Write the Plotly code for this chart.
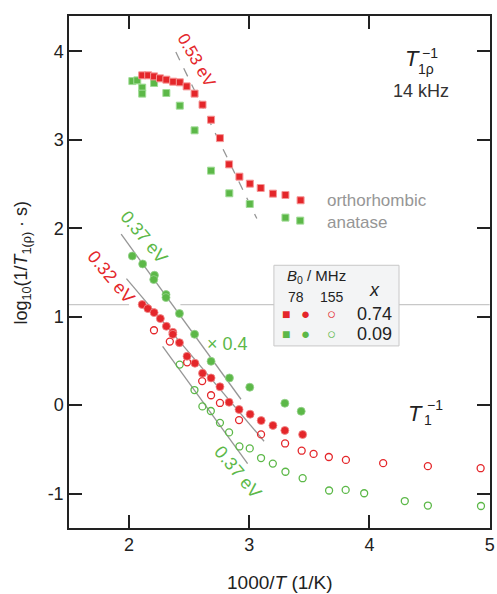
import plotly.graph_objects as go

# T1rho^-1 (14 kHz), squares
ortho_sq_x = [2.109, 2.159, 2.208, 2.257, 2.310, 2.367, 2.422, 2.479, 2.545, 2.611,
              2.682, 2.756, 2.832, 2.918, 3.005, 3.095, 3.197, 3.301, 3.427]
ortho_sq_y = [3.729, 3.729, 3.717, 3.695, 3.680, 3.657, 3.650, 3.604, 3.522, 3.397,
              3.227, 3.019, 2.722, 2.583, 2.504, 2.455, 2.391, 2.376, 2.316]
anat_sq_x = [2.027, 2.068, 2.109, 2.109, 2.208, 2.310, 2.422, 2.545, 2.682, 2.834,
             3.004, 3.301, 3.424]
anat_sq_y = [3.664, 3.672, 3.590, 3.522, 3.642, 3.529, 3.386, 3.107, 2.651, 2.395,
             2.274, 2.120, 2.086]

# T1^-1, 78 MHz (filled) and 155 MHz (open)
ortho_78_x = [2.109, 2.156, 2.208, 2.260, 2.310, 2.364, 2.364, 2.419, 2.482, 2.548,
              2.611, 2.682, 2.756, 2.832, 2.915, 3.007, 3.099, 3.197, 3.296, 3.444]
ortho_78_y = [1.137, 1.091, 1.046, 0.978, 0.891, 0.823, 0.800, 0.706, 0.552, 0.473,
              0.360, 0.307, 0.207, 0.032, -0.050, -0.103, -0.175, -0.230, -0.287, -0.333]
anat_78_x = [2.027, 2.113, 2.211, 2.205, 2.307, 2.307, 2.419, 2.545, 2.682, 2.835,
             3.004, 3.296, 3.432]
anat_78_y = [1.686, 1.596, 1.468, 1.419, 1.250, 1.216, 1.035, 0.801, 0.495, 0.307,
             0.202, 0.021, -0.070]
ortho_155_x = [2.207, 2.339, 2.483, 2.608, 2.682, 2.756, 2.915, 3.098, 3.298, 3.436,
               3.535, 3.662, 3.804, 4.114, 4.486, 4.925]
ortho_155_y = [0.846, 0.718, 0.484, 0.271, 0.111, 0.024, -0.170, -0.332, -0.434, -0.516,
               -0.552, -0.587, -0.620, -0.657, -0.691, -0.714]
anat_155_x = [2.421, 2.544, 2.610, 2.680, 2.756, 2.832, 2.918, 3.004, 3.098, 3.196,
              3.301, 3.444, 3.664, 3.802, 3.956, 4.294, 4.486, 4.928]
anat_155_y = [0.458, 0.170, -0.015, -0.067, -0.201, -0.309, -0.468, -0.490, -0.599, -0.662,
              -0.754, -0.827, -0.966, -0.959, -0.997, -1.085, -1.136, -1.141]

# Arrhenius fit lines (end points)
fit_053_x, fit_053_y = [2.389, 3.063], [3.992, 2.109]
fit_037a_x, fit_037a_y = [1.934, 2.931], [1.932, 0.066]
fit_032_x, fit_032_y = [1.978, 3.123], [1.430, -0.409]
fit_037b_x, fit_037b_y = [2.279, 2.986], [0.665, -0.661]

divider_y = 1.137

RED = "rgb(228,38,42)"
GREEN = "rgb(92,184,72)"
GRAY = "rgb(150,150,150)"
FONT = "Arial, Liberation Sans, sans-serif"

fig = go.Figure()

for fx, fy, dash in [(fit_053_x, fit_053_y, "dash"), (fit_037a_x, fit_037a_y, "solid"),
                     (fit_032_x, fit_032_y, "solid"), (fit_037b_x, fit_037b_y, "solid")]:
    fig.add_trace(go.Scatter(x=fx, y=fy, mode="lines",
                             line=dict(color=GRAY, width=1.3, dash=dash)))

fig.add_trace(go.Scatter(x=anat_sq_x, y=anat_sq_y, mode="markers",
                         marker=dict(symbol="square", size=7, color=GREEN,
                                     line=dict(color="rgb(160,220,150)", width=1))))
fig.add_trace(go.Scatter(x=ortho_sq_x, y=ortho_sq_y, mode="markers",
                         marker=dict(symbol="square", size=7, color=RED,
                                     line=dict(color="rgb(245,150,150)", width=1))))
fig.add_trace(go.Scatter(x=anat_155_x, y=anat_155_y, mode="markers",
                         marker=dict(symbol="circle-open", size=7, color=GREEN,
                                     line=dict(width=1.3))))
fig.add_trace(go.Scatter(x=ortho_155_x, y=ortho_155_y, mode="markers",
                         marker=dict(symbol="circle-open", size=7, color=RED,
                                     line=dict(width=1.3))))
fig.add_trace(go.Scatter(x=anat_78_x, y=anat_78_y, mode="markers",
                         marker=dict(symbol="circle", size=8, color=GREEN,
                                     line=dict(color="rgb(150,210,140)", width=0.8))))
fig.add_trace(go.Scatter(x=ortho_78_x, y=ortho_78_y, mode="markers",
                         marker=dict(symbol="circle", size=8, color=RED,
                                     line=dict(color="rgb(240,140,140)", width=0.8))))

# divider line and legend box
fig.add_shape(type="line", x0=1.5, x1=2.0, y0=divider_y, y1=divider_y, layer="below",
              line=dict(color="rgb(200,200,200)", width=1.3))
fig.add_shape(type="line", x0=2.427, x1=5.0, y0=divider_y, y1=divider_y, layer="below",
              line=dict(color="rgb(200,200,200)", width=1.3))
fig.add_shape(type="rect", x0=3.205, x1=4.246, y0=0.669, y1=1.581, layer="below",
              fillcolor="rgb(243,244,245)", line=dict(color="rgb(200,200,200)", width=1))


def note(x, y, text, color="#222", size=17, angle=0, xanchor="center", ref=None):
    fig.add_annotation(x=x, y=y, text=text, showarrow=False, textangle=angle,
                       xanchor=xanchor, yanchor="middle",
                       xref=ref or "x", yref="paper" if ref else "y",
                       font=dict(family=FONT, size=size, color=color))


note(2.561, 3.898, "0.53 eV", RED, 17, 60)
note(2.123, 1.901, "0.37 eV", GREEN, 18, 50)
note(1.850, 1.449, "0.32 eV", RED, 18, 50)
note(2.904, -0.756, "0.37 eV", GREEN, 18, 50)
note(2.822, 0.696, "× 0.4", GREEN, 18)

note(4.356, 3.915, "<i>T</i>", "#222", 22)
note(4.474, 3.800, "1ρ", "#222", 14)
note(4.507, 3.983, "−1", "#222", 14)
note(4.432, 3.551, "14 kHz", "#333", 18)

note(4.387, -0.098, "<i>T</i>", "#222", 22)
note(4.490, -0.171, "1", "#222", 14)
note(4.547, -0.002, "−1", "#222", 14)

note(3.627, 2.316, "orthorhombic", "rgb(150,150,150)", 17, xanchor="left")
note(3.627, 2.067, "anatase", "rgb(150,150,150)", 17, xanchor="left")

# legend content
note(3.561, 1.449, "<i>B</i><sub>0</sub> / MHz", "#222", 15)
note(3.389, 1.222, "78", "#222", 14)
note(3.690, 1.222, "155", "#222", 14)
note(4.040, 1.298, "<i>x</i>", "#222", 18)
for yy, col, val in [(1.035, RED, "0.74"), (0.809, GREEN, "0.09")]:
    note(3.306, yy, "■", col, 14)
    note(3.465, yy, "●", col, 15)
    note(3.684, yy, "○", col, 15)
    note(4.046, yy, val, "#222", 18)

note(-0.111, 0.519, "log<sub>10</sub>(1/<i>T</i><sub>1(ρ)</sub> · s)", "#222", 18, -90, ref="paper")
note(0.502, -0.107, "1000/<i>T</i> (1/K)", "#222", 19, ref="paper")

axis_style = dict(showline=True, linecolor="#222", linewidth=1.5, mirror="ticks",
                  ticks="inside", ticklen=13, tickwidth=1.5, tickcolor="#222",
                  showgrid=False, zeroline=False, ticklabeloverflow="allow",
                  tickfont=dict(family=FONT, size=18, color="#222"))

fig.update_layout(
    width=497, height=594,
    margin=dict(l=69, r=2, t=16, b=66),
    plot_bgcolor="white", paper_bgcolor="white",
    showlegend=False,
    xaxis=dict(range=[1.5, 5.003], tickvals=[2, 3, 4, 5], **axis_style),
    yaxis=dict(range=[-1.39, 4.40], tickvals=[-1, 0, 1, 2, 3, 4],
               ticktext=["-1", "0", "1", "2", "3", "4"], **axis_style),
)

# the page's default body margin would shift the figure
fig.write_html("out.html", config=dict(displayModeBar=False),
               post_script="document.body.style.margin='0';")
